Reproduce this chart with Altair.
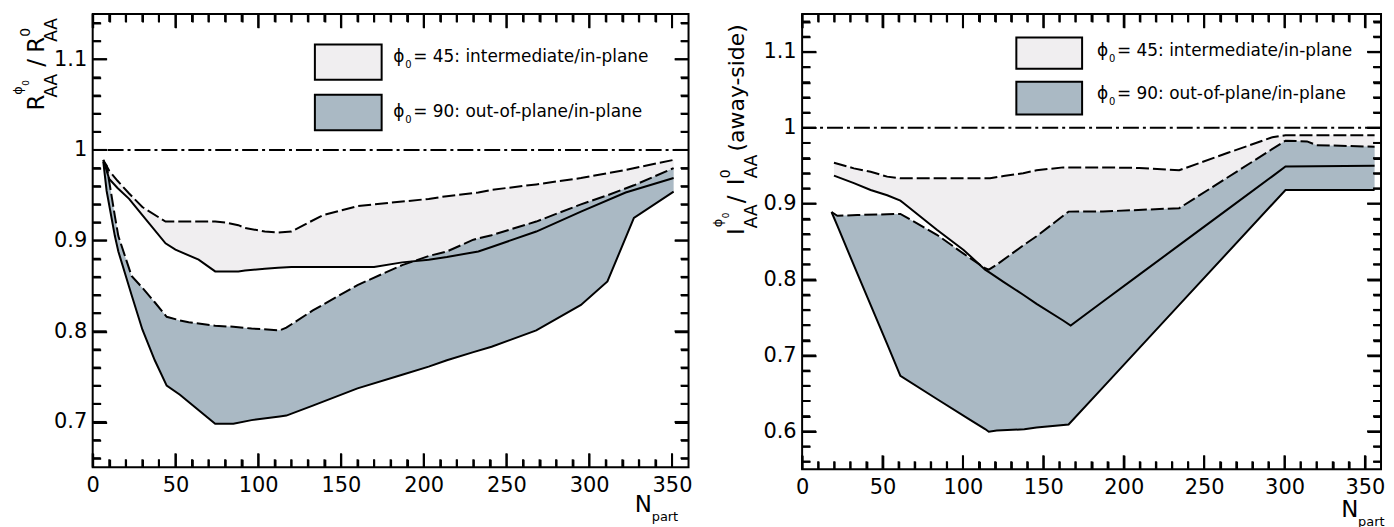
import altair as alt
import pandas as pd

FONT = "DejaVu Sans"
FILL45 = "#f0eef0"
FILL90 = "#aab9c4"

# ---------------- left panel: R_AA(phi0)/R_AA(0) ----------------
L_N45 = [6.4, 10, 15, 22, 30, 44, 50, 64, 74, 80, 88, 92, 104, 112, 120, 139, 160, 170,
         187, 203, 214, 233, 241, 268, 295, 322, 351]
L_45_HI = [0.989, 0.977, 0.966, 0.952, 0.937, 0.921, 0.921, 0.921, 0.921, 0.920, 0.917, 0.914,
           0.910, 0.909, 0.910, 0.928, 0.938, 0.940, 0.943, 0.946, 0.949, 0.953, 0.956, 0.962,
           0.969, 0.978, 0.989]
L_45_LO = [0.989, 0.968, 0.958, 0.946, 0.928, 0.897, 0.890, 0.879, 0.866, 0.866, 0.866, 0.867,
           0.869, 0.870, 0.871, 0.871, 0.871, 0.871, 0.876, 0.879, 0.882, 0.888, 0.893, 0.910,
           0.932, 0.953, 0.969]

L_N90 = [6.4, 8.4, 13.4, 15.5, 23.5, 30, 37.5, 44.7, 52.7, 58, 74, 85, 96, 113, 117, 133, 160,
         187, 203, 214, 230, 241, 268, 295, 311, 327, 351]
L_90_HI = [0.987, 0.983, 0.927, 0.905, 0.861, 0.848, 0.832, 0.816, 0.812, 0.810, 0.806, 0.805,
           0.803, 0.801, 0.804, 0.823, 0.851, 0.873, 0.883, 0.888, 0.901, 0.906, 0.921, 0.940,
           0.950, 0.961, 0.980]
L_90_LO = [0.987, 0.955, 0.905, 0.888, 0.840, 0.802, 0.768, 0.740, 0.730, 0.722, 0.698, 0.698,
           0.702, 0.706, 0.707, 0.718, 0.737, 0.752, 0.761, 0.768, 0.777, 0.783, 0.801, 0.829,
           0.855, 0.925, 0.954]

# ---------------- right panel: I_AA(phi0)/I_AA(0) away-side ----------------
R_N45 = [19.8, 32.2, 42.6, 52.9, 61.1, 63.2, 83.8, 100.4, 113.8, 116.9, 125.2, 137.5, 145.8,
         162.3, 167, 187.1, 209.7, 234.5, 264.8, 292.4, 300.6, 356]
R_45_HI = [0.954, 0.9465, 0.942, 0.9356, 0.9334, 0.9334, 0.9334, 0.9334, 0.9334, 0.9334, 0.9364,
           0.940, 0.944, 0.9478, 0.9478, 0.9478, 0.947, 0.944, 0.967, 0.9875, 0.990, 0.990]
R_45_LO = [0.937, 0.927, 0.918, 0.911, 0.904, 0.9006, 0.8655, 0.839, 0.813, 0.8087, 0.797, 0.780,
           0.768, 0.746, 0.7395, 0.771, 0.8065, 0.8453, 0.8928, 0.936, 0.949, 0.950]

R_N90 = [18.3, 21.9, 34.3, 52.9, 61.1, 83.8, 104.5, 113.8, 116.1, 121, 138.2, 145.8, 165.7,
         187.1, 234.5, 300.6, 314, 320, 340, 356]
R_90_HI = [0.889, 0.884, 0.885, 0.886, 0.8865, 0.859, 0.828, 0.815, 0.813, 0.8196, 0.846, 0.857,
           0.8895, 0.8897, 0.894, 0.983, 0.982, 0.977, 0.976, 0.975]
R_90_LO = [0.889, 0.871, 0.808, 0.715, 0.673, 0.6426, 0.615, 0.603, 0.5995, 0.601, 0.6027, 0.605,
           0.609, 0.658, 0.7666, 0.918, 0.918, 0.918, 0.918, 0.918]

# ---------------- ticks / labels ----------------
X_DOMAIN = [0, 360]
X_MAJOR = [0, 50, 100, 150, 200, 250, 300, 350]
X_MINOR = [10, 20, 30, 40, 60, 70, 80, 90, 110, 120, 130, 140, 160, 170, 180, 190, 210, 220,
           230, 240, 260, 270, 280, 290, 310, 320, 330, 340]
L_Y_MAJOR = [0.7, 0.8, 0.9, 1.0, 1.1]
L_Y_MINOR = [0.66, 0.68, 0.72, 0.74, 0.76, 0.78, 0.82, 0.84, 0.86, 0.88, 0.92, 0.94, 0.96,
             0.98, 1.02, 1.04, 1.06, 1.08, 1.12, 1.14]
R_Y_MAJOR = [0.6, 0.7, 0.8, 0.9, 1.0, 1.1]
R_Y_MINOR = [0.56, 0.58, 0.62, 0.64, 0.66, 0.68, 0.72, 0.74, 0.76, 0.78, 0.82, 0.84, 0.86,
             0.88, 0.92, 0.94, 0.96, 0.98, 1.02, 1.04, 1.06, 1.08, 1.12, 1.14]
REF_LINE = [1.0]
LEGEND_LABELS = ["= 45: intermediate/in-plane", "= 90: out-of-plane/in-plane"]

ONE = pd.DataFrame({"k": [0]})
MAJOR_LEN = 14  # px
MINOR_LEN = 8   # px
TICK_W = 2      # px
X_IS_MAJOR = "datum.value % 50 === 0"
Y_IS_MAJOR = "abs(datum.value * 10 - round(datum.value * 10)) < 0.001"


def txt(x, y, s, size, angle=None, align="left", baseline="alphabetic"):
    kw = dict(align=align, baseline=baseline, font=FONT, fontSize=size, color="black")
    if angle is not None:
        kw["angle"] = angle
    return alt.Chart(ONE).mark_text(**kw).encode(
        x=alt.value(x), y=alt.value(y), text=alt.value(s))


def tick_dash(total, L):
    return [L, total - 2 * L, L, 4000]


def panel(N45, hi45, lo45, N90, hi90, lo90, ydom, ymaj, ymin, W, H, leg, title_items,
          xt, anchor=False):
    xs = alt.Scale(domain=X_DOMAIN, nice=False, zero=False)
    ys = alt.Scale(domain=ydom, nice=False, zero=False)
    common = dict(ticks=False, tickSize=0, domain=False, grid=True, gridColor="black",
                  gridWidth=2, gridOpacity=1, labelFont=FONT, labelFontSize=21,
                  labelColor="black", labelFlush=False, labelOverlap=False, title=None,
                  zindex=1)
    xax = alt.Axis(values=sorted(X_MAJOR + X_MINOR), format="d",
                   labelExpr=X_IS_MAJOR + " ? datum.label : ''", labelPadding=7,
                   gridDash={"condition": {"test": X_IS_MAJOR,
                                           "value": tick_dash(H, MAJOR_LEN)},
                             "value": tick_dash(H, MINOR_LEN)},
                   **common)
    yax = alt.Axis(values=sorted(ymaj + ymin), format=".1~f",
                   labelExpr=Y_IS_MAJOR + " ? datum.label : ''", labelPadding=6,
                   gridDash={"condition": {"test": Y_IS_MAJOR,
                                           "value": tick_dash(W, MAJOR_LEN)},
                             "value": tick_dash(W, MINOR_LEN)},
                   **common)

    def X(f):
        return alt.X(f, type="quantitative", scale=xs, axis=xax)

    def Y(f):
        return alt.Y(f, type="quantitative", scale=ys, axis=yax)

    d45 = pd.DataFrame({"N": N45, "hi": hi45, "lo": lo45})
    d90 = pd.DataFrame({"N": N90, "hi": hi90, "lo": lo90})

    # inward tick marks as thin rectangles, built from the tick values
    # (pixel lengths converted to data units)
    yspan = ydom[1] - ydom[0]
    xspan = X_DOMAIN[1] - X_DOMAIN[0]
    px_x = xspan / W
    px_y = yspan / H
    rows = []
    for vals, L in ((X_MAJOR, MAJOR_LEN), (X_MINOR, MINOR_LEN)):
        for v in vals:
            for a, b in ((ydom[0], ydom[0] + L * px_y), (ydom[1] - L * px_y, ydom[1])):
                rows.append({"xa": v - TICK_W / 2 * px_x, "xb": v + TICK_W / 2 * px_x,
                             "ya": a, "yb": b})
    for vals, L in ((ymaj, MAJOR_LEN), (ymin, MINOR_LEN)):
        for v in vals:
            for a, b in ((X_DOMAIN[0], X_DOMAIN[0] + L * px_x), (X_DOMAIN[1] - L * px_x, X_DOMAIN[1])):
                rows.append({"xa": a, "xb": b,
                             "ya": v - TICK_W / 2 * px_y, "yb": v + TICK_W / 2 * px_y})
    tick_rects = pd.DataFrame(rows)

    layers = [
        alt.Chart(d45).mark_area(color=FILL45).encode(x=X("N"), y=Y("lo"), y2=alt.Y2("hi")),
        alt.Chart(d90).mark_area(color=FILL90).encode(x=X("N"), y=Y("lo"), y2=alt.Y2("hi")),
    ]
    for d in (d45, d90):
        layers.append(alt.Chart(d).mark_line(color="black", strokeWidth=2, strokeDash=[13, 4])
                      .encode(x=X("N"), y=Y("hi")))
        layers.append(alt.Chart(d).mark_line(color="black", strokeWidth=2)
                      .encode(x=X("N"), y=Y("lo")))
    layers.append(alt.Chart(pd.DataFrame({"r": REF_LINE})).mark_rule(
        color="black", strokeWidth=2, strokeDash=[16, 4, 3, 4]).encode(y=Y("r")))
    layers.append(alt.Chart(tick_rects).mark_rect(color="black", opacity=1).encode(
        x=X("xa"), x2=alt.X2("xb"), y=Y("ya"), y2=alt.Y2("yb")))

    # legend
    for i, fill in enumerate((FILL45, FILL90)):
        y0, y1 = leg["boxes"][i]
        layers.append(alt.Chart(ONE).mark_rect(fill=fill, stroke="black", strokeWidth=2).encode(
            x=alt.value(leg["bx0"]), x2=alt.value(leg["bx1"]), y=alt.value(y0), y2=alt.value(y1)))
        ty = leg["ty"][i]
        layers.append(txt(leg["tx"], ty, "ϕ", 17, baseline="middle"))
        layers.append(txt(leg["tx"] + 12, ty + 8, "0", 10, baseline="middle"))
        layers.append(txt(leg["tx"] + 20, ty, LEGEND_LABELS[i], 17, baseline="middle"))

    # y-axis title pieces (rotated)
    for (x, y, s, size) in title_items:
        layers.append(txt(x, y, s, size, angle=270))

    # x-axis title N_part
    layers.append(txt(xt[0], xt[1], "N", 23))
    layers.append(txt(xt[0] + 17, xt[1] + 9, "part", 13))

    if anchor:
        layers.append(alt.Chart(ONE).mark_rule(color="white", strokeWidth=1).encode(
            x=alt.value(-83), x2=alt.value(-83), y=alt.value(-2), y2=alt.value(0)))

    return alt.layer(*layers).properties(width=W, height=H)


left_title = [
    (-49, 97, "R", 23),
    (-36, 84, "AA", 17),
    (-71, 81, "ϕ", 13),
    (-64, 72, "0", 9),
    (-49, 53, "/", 23),
    (-49, 39, "R", 23),
    (-36, 28, "AA", 17),
    (-63, 23, "0", 14),
]
right_title = [
    (-58, 222, "I", 23),
    (-45, 215, "AA", 17),
    (-80, 214, "ϕ", 13),
    (-73, 205, "0", 9),
    (-58, 190, "/", 23),
    (-58, 172, "I", 23),
    (-45, 165, "AA", 17),
    (-72, 165, "0", 14),
    (-58, 138, "(away-side)", 22),
]

left = panel(L_N45, L_45_HI, L_45_LO, L_N90, L_90_HI, L_90_LO, [0.65, 1.15],
             L_Y_MAJOR, L_Y_MINOR, 598, 455,
             dict(bx0=223, bx1=290, boxes=[(30.7, 66), (81, 116.7)], tx=301.7, ty=[43.3, 98]),
             left_title, (544, 500), anchor=True)
right = panel(R_N45, R_45_HI, R_45_LO, R_N90, R_90_HI, R_90_LO, [0.55, 1.15],
              R_Y_MAJOR, R_Y_MINOR, 581, 457,
              dict(bx0=215, bx1=281, boxes=[(23.6, 54.9), (68, 101)], tx=296, ty=[37, 80]),
              right_title, (541, 505))

chart = alt.hconcat(left, right, spacing=114, bounds="flush").properties(
    padding=0
).configure_view(stroke="black", strokeWidth=2)

chart.save("out.html", embed_options={"renderer": "svg", "actions": False})
